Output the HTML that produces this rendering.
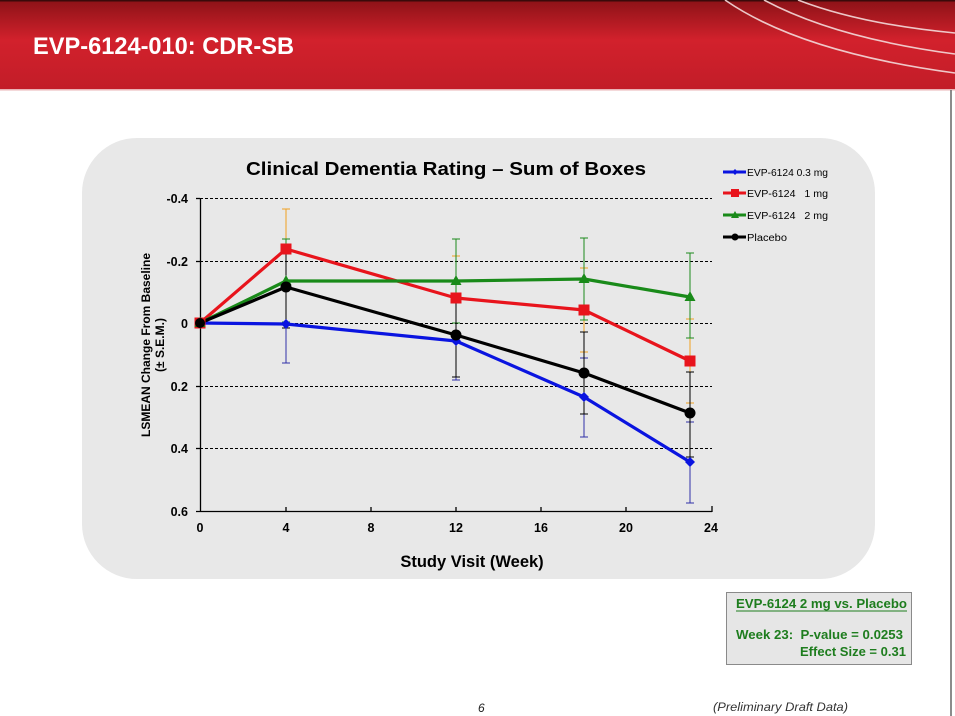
<!DOCTYPE html>
<html><head><meta charset="utf-8"><style>
html,body{margin:0;padding:0;background:#fff;}
svg{display:block;}
text{font-family:"Liberation Sans",Arial,sans-serif;}
</style></head><body>
<svg width="955" height="716" viewBox="0 0 955 716" xmlns="http://www.w3.org/2000/svg">
<defs>
<linearGradient id="hg" x1="0" y1="0" x2="0" y2="1">
<stop offset="0" stop-color="#8c1217"/>
<stop offset="0.45" stop-color="#d2212c"/>
<stop offset="1" stop-color="#c21d28"/>
</linearGradient>
</defs>
<rect x="0" y="0" width="955" height="716" fill="#fff"/>
<!-- header -->
<rect x="0" y="0" width="955" height="89" fill="url(#hg)"/>
<rect x="0" y="0" width="955" height="1.5" fill="#3a0a0a"/>
<rect x="0" y="89" width="955" height="1.5" fill="#e9b3b5"/>
<g fill="none" stroke="#f4dada" stroke-width="1.6" opacity="0.9">
<path d="M725,0 Q800,52 955,73"/>
<path d="M764,0 Q835,38 955,54"/>
<path d="M798,0 Q860,24 955,33"/>
</g>
<text x="33" y="54" font-size="24" font-weight="bold" fill="#fff" textLength="261" lengthAdjust="spacingAndGlyphs">EVP-6124-010: CDR-SB</text>
<line x1="951" y1="90" x2="951" y2="716" stroke="#666" stroke-width="1.5"/>

<!-- chart panel -->
<rect x="82" y="138" width="793" height="441" rx="55" ry="55" fill="#e8e8e8"/>
<text x="446" y="175" font-size="18" font-weight="bold" fill="#000" text-anchor="middle" textLength="400" lengthAdjust="spacingAndGlyphs">Clinical Dementia Rating – Sum of Boxes</text>

<!-- grid -->
<g stroke="#000" stroke-width="1" stroke-dasharray="3,2" fill="none">
<line x1="200" y1="198.5" x2="712" y2="198.5"/>
<line x1="200" y1="261.5" x2="712" y2="261.5"/>
<line x1="200" y1="323.5" x2="712" y2="323.5"/>
<line x1="200" y1="386.5" x2="712" y2="386.5"/>
<line x1="200" y1="448.5" x2="712" y2="448.5"/>
</g>
<!-- axes -->
<g stroke="#000" stroke-width="1.3" fill="none">
<line x1="200.5" y1="198" x2="200.5" y2="511"/>
<line x1="196" y1="511.5" x2="712" y2="511.5"/>
<line x1="196" y1="198.5" x2="200" y2="198.5"/>
<line x1="196" y1="261.5" x2="200" y2="261.5"/>
<line x1="196" y1="323.5" x2="200" y2="323.5"/>
<line x1="196" y1="386.5" x2="200" y2="386.5"/>
<line x1="196" y1="448.5" x2="200" y2="448.5"/>
<line x1="286" y1="507" x2="286" y2="511"/>
<line x1="371" y1="507" x2="371" y2="511"/>
<line x1="456" y1="507" x2="456" y2="511"/>
<line x1="541" y1="507" x2="541" y2="511"/>
<line x1="626" y1="507" x2="626" y2="511"/>
<line x1="712" y1="506" x2="712" y2="512"/>
</g>
<g font-size="12.5" font-weight="bold" fill="#000" text-anchor="end">
<text x="188" y="203">-0.4</text>
<text x="188" y="266">-0.2</text>
<text x="188" y="328">0</text>
<text x="188" y="391">0.2</text>
<text x="188" y="453">0.4</text>
<text x="188" y="516">0.6</text>
</g>
<g font-size="12.5" font-weight="bold" fill="#000" text-anchor="middle">
<text x="200" y="532">0</text>
<text x="286" y="532">4</text>
<text x="371" y="532">8</text>
<text x="456" y="532">12</text>
<text x="541" y="532">16</text>
<text x="626" y="532">20</text>
<text x="711" y="532">24</text>
</g>
<text x="472" y="567" font-size="16.5" font-weight="bold" text-anchor="middle" fill="#000">Study Visit (Week)</text>
<text transform="translate(150,345) rotate(-90)" font-size="12" font-weight="bold" text-anchor="middle" fill="#000">LSMEAN Change From Baseline</text>
<text transform="translate(164,345) rotate(-90)" font-size="12" font-weight="bold" text-anchor="middle" fill="#000">(± S.E.M.)</text>

<!-- error bars -->
<g stroke-width="1" fill="none">
<g stroke="#3030a8">
<path d="M286,285V363M282,285H290M282,363H290"/>
<path d="M456,302V380M452,302H460M452,380H460"/>
<path d="M584,358V437M580,358H588M580,437H588"/>
<path d="M690,422V503M686,422H694M686,503H694"/>
</g>
<g stroke="#f0a020">
<path d="M286,209V288M282,209H290M282,288H290"/>
<path d="M456,256V340M452,256H460M452,340H460"/>
<path d="M584,268V352M580,268H588M580,352H588"/>
<path d="M690,319V403M686,319H694M686,403H694"/>
</g>
<g stroke="#1d8a1d">
<path d="M286,239V322M282,239H290M282,322H290"/>
<path d="M456,239V323M452,239H460M452,323H460"/>
<path d="M584,238V320M580,238H588M580,320H588"/>
<path d="M690,253V338M686,253H694M686,338H694"/>
</g>
<g stroke="#000">
<path d="M286,246V328M282,246H290M282,328H290"/>
<path d="M456,293V377M452,293H460M452,377H460"/>
<path d="M584,332V414M580,332H588M580,414H588"/>
<path d="M690,372V457M686,372H694M686,457H694"/>
</g>
</g>

<!-- series -->
<g fill="none" stroke-width="3.2" stroke-linejoin="round">
<polyline stroke="#0a14e0" points="200,323 286,324 456,341 584,397 690,462"/>
<polyline stroke="#e8141c" points="200,323 286,249 456,298 584,310 690,361"/>
<polyline stroke="#198a19" points="200,323 286,281 456,281 584,279 690,297"/>
<polyline stroke="#000" points="200,323 286,287 456,335 584,373 690,413"/>
</g>
<!-- markers -->
<g fill="#0a14e0">
<path d="M200,318 L205,323 L200,328 L195,323Z"/>
<path d="M286,319 L291,324 L286,329 L281,324Z"/>
<path d="M456,336 L461,341 L456,346 L451,341Z"/>
<path d="M584,392 L589,397 L584,402 L579,397Z"/>
<path d="M690,457 L695,462 L690,467 L685,462Z"/>
</g>
<g fill="#e8141c">
<rect x="194.5" y="317.5" width="11" height="11"/>
<rect x="280.5" y="243.5" width="11" height="11"/>
<rect x="450.5" y="292.5" width="11" height="11"/>
<rect x="578.5" y="304.5" width="11" height="11"/>
<rect x="684.5" y="355.5" width="11" height="11"/>
</g>
<g fill="#198a19">
<path d="M200,317 L205.5,327 L194.5,327Z"/>
<path d="M286,275 L291.5,285 L280.5,285Z"/>
<path d="M456,275 L461.5,285 L450.5,285Z"/>
<path d="M584,273 L589.5,283 L578.5,283Z"/>
<path d="M690,291 L695.5,301 L684.5,301Z"/>
</g>
<g fill="#000">
<circle cx="200" cy="323" r="5"/>
<circle cx="286" cy="287" r="5.5"/>
<circle cx="456" cy="335" r="5.5"/>
<circle cx="584" cy="373" r="5.5"/>
<circle cx="690" cy="413" r="5.5"/>
</g>

<!-- legend -->
<g stroke-width="3" fill="none">
<line x1="723" y1="172" x2="746" y2="172" stroke="#0a14e0"/>
<line x1="723" y1="193" x2="746" y2="193" stroke="#e8141c"/>
<line x1="723" y1="215" x2="746" y2="215" stroke="#198a19"/>
<line x1="723" y1="237" x2="746" y2="237" stroke="#000"/>
</g>
<path d="M735,169 L738,172 L735,175 L732,172Z" fill="#0a14e0"/>
<rect x="731" y="189" width="8" height="8" fill="#e8141c"/>
<path d="M735,211 L739,218 L731,218Z" fill="#198a19"/>
<circle cx="735" cy="237" r="3.5" fill="#000"/>
<g font-size="10" fill="#000">
<text x="747" y="176" textLength="81" lengthAdjust="spacingAndGlyphs">EVP-6124 0.3 mg</text>
<text x="747" y="197" textLength="81" lengthAdjust="spacingAndGlyphs" xml:space="preserve">EVP-6124   1 mg</text>
<text x="747" y="219" textLength="81" lengthAdjust="spacingAndGlyphs" xml:space="preserve">EVP-6124   2 mg</text>
<text x="747" y="241" textLength="40" lengthAdjust="spacingAndGlyphs">Placebo</text>
</g>

<!-- stats box -->
<rect x="726.5" y="592.5" width="185" height="72" fill="#e6e6e6" stroke="#8a8a8a" stroke-width="1"/>
<g font-size="13" font-weight="bold" fill="#1e7d1e">
<text x="736" y="608" textLength="171" lengthAdjust="spacingAndGlyphs">EVP-6124 2 mg vs. Placebo</text>
<line x1="736" y1="611" x2="907" y2="611" stroke="#1e7d1e" stroke-width="1"/>
<text x="736" y="639" textLength="167" lengthAdjust="spacingAndGlyphs" xml:space="preserve">Week 23:  P-value = 0.0253</text>
<text x="800" y="656" textLength="106" lengthAdjust="spacingAndGlyphs">Effect Size = 0.31</text>
</g>

<!-- footer -->
<text x="478" y="712" font-size="12" font-style="italic" fill="#222">6</text>
<text x="713" y="711" font-size="12" font-style="italic" fill="#333" textLength="135" lengthAdjust="spacingAndGlyphs">(Preliminary Draft Data)</text>
</svg>
</body></html>
